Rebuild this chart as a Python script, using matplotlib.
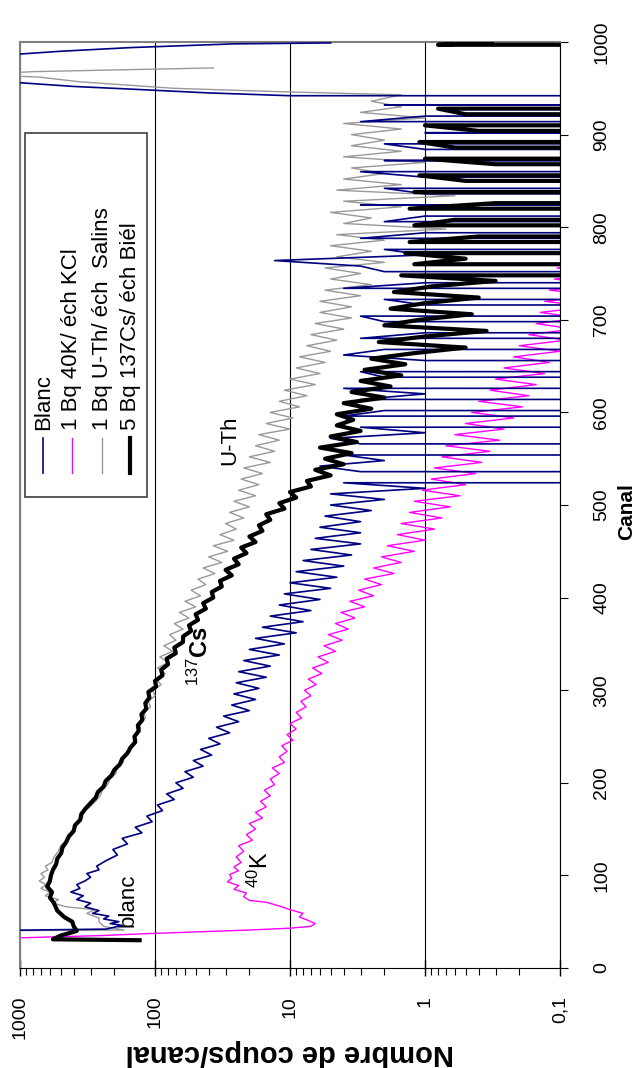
import numpy as np
import matplotlib
matplotlib.use('Agg')
import matplotlib.pyplot as plt
from matplotlib.ticker import LogLocator, NullFormatter
from matplotlib.patches import Rectangle

plt.rcParams['font.family'] = ['Liberation Sans', 'DejaVu Sans']
plt.rcParams['mathtext.fontset'] = 'custom'
plt.rcParams['mathtext.rm'] = 'Liberation Sans'
plt.rcParams['mathtext.it'] = 'Liberation Sans:italic'
plt.rcParams['mathtext.bf'] = 'Liberation Sans:bold'


def channels(start, step, vals):
    return [start + step * i for i in range(len(vals))]


# --- Blanc (navy) ---
blanc_head_ch = [30, 40, 42, 46, 48, 50, 53, 56, 59, 62, 66, 70, 74, 78, 82, 86, 90, 94, 98, 102, 106, 110]
blanc_head_n = [3000, 3000, 230, 175, 215, 185, 240, 220, 290, 260, 330, 300, 380, 340, 420, 360, 380, 330,
                300, 320, 260, 270]
blanc_body1_n = [230, 190, 205, 160, 175, 125, 140, 105, 115, 88, 96, 72, 82, 62, 70, 52, 60, 44, 52, 38,
                 46, 33, 40, 28, 35, 24, 31, 20, 27, 18, 26, 17, 25, 15, 24, 14, 22, 12, 20, 11,
                 18, 9, 16, 8, 14, 7, 12, 6, 11, 5, 10, 4.5, 9, 4, 8, 3.5, 7, 3, 6.5, 3,
                 6, 3, 5.5, 2.5, 5]
blanc_body2_n = [2, 5, 1, 4, 0, 3, 6, 2, 4, 0, 3, 5, 1, 3, 0, 4,
                 2, 0, 3, 1, 4, 0, 2, 3, 0, 1, 4, 2, 0, 3, 1, 0, 2,
                 3, 0, 1, 2, 0, 4, 1, 0, 2, 3, 13, 1, 2, 0, 3, 1, 0,
                 2, 1, 0, 3, 0, 1, 2, 0, 1, 3, 0, 2, 0, 1, 2, 0, 1, 0, 3, 1, 0, 2, 0]
blanc_tail_ch = [940, 942, 945, 949, 952, 956, 958, 985, 987, 990, 994, 998, 999]
blanc_tail_n = [0, 10, 40, 145, 400, 1000, 3000, 3000, 1000, 500, 150, 26, 5]

# --- 1 Bq 40K (magenta) ---
k40_head_ch = [30, 31, 33, 35, 37, 39, 41, 43, 45, 48, 52, 55, 59, 63, 67, 71, 73, 77, 81, 85, 89, 93, 97,
               101, 105, 109, 114]
k40_head_n = [3000, 2000, 800, 250, 120, 50, 20, 10, 7, 6.5, 7.5, 8.5, 8, 10, 12, 15, 20, 22, 21, 26, 24, 29,
              27, 28, 24, 26, 23]
k40_body_n = [25, 22, 24, 19, 21, 18, 20, 16, 18, 15, 16.5, 14, 15.5, 13, 14, 12, 13.5, 11, 12, 10.5,
              11.5, 9.5, 10.5, 9, 10, 8.2, 9, 7.6, 8.3, 7, 7.8, 6.4, 7.3, 5.8, 6.8, 5.2, 6.2, 4.6, 5.6, 4.1,
              5.2, 3.7, 4.6, 3.3, 4.2, 2.8, 3.6, 2.4, 3.1, 2.1, 2.8, 1.7, 2.4, 1.5, 2.1, 1.2, 1.9, 1.0, 1.6, 0.85,
              1.5, 0.75, 1.3, 0.65, 1.2, 0.55, 1.05, 0.5, 0.9, 0.42, 0.85, 0.38, 0.75, 0.33, 0.7, 0.28, 0.6,
              0.26, 0.5, 0.22, 0.45, 0.19, 0.4, 0.17, 0.33, 0.15, 0.3, 0.13, 0.26, 0.12, 0.22, 0.1, 0.2, 0.09,
              0.17, 0.08, 0.15, 0.07, 0.14, 0.06, 0.13, 0.05, 0.12, 0.05, 0.11, 0.04, 0.105, 0.03]

# --- 1 Bq U-Th (grey) ---
uth_head_ch = [30, 40, 41, 45, 50, 54, 59, 63, 66, 70, 74, 78, 82, 86, 90, 94, 98, 102, 106, 110, 114]
uth_head_n = [3000, 3000, 170, 240, 260, 260, 320, 280, 450, 570, 520, 650, 600, 700, 640, 720, 660, 700,
              620, 650, 580]
uth_body_n = [560, 520, 500, 450, 440, 390, 380, 345, 340, 305,
              275, 255, 245, 225, 215, 195, 192, 172, 170, 155,
              152, 138, 140, 128, 130, 118, 120, 108, 112, 100,
              104, 90, 98, 84, 96, 80, 92, 74, 86, 70,
              78, 62, 72, 56, 66, 50, 60, 46, 54, 42,
              48, 36, 44, 32, 40, 29, 37, 26, 33, 25,
              30, 22, 28, 20, 26, 18, 24, 17, 23, 16,
              22, 14, 20, 13, 18, 12, 17, 10, 15, 9.5,
              14, 8.5, 12, 7.5, 11, 6.5, 10, 6, 9, 5.5,
              8.5, 5, 7.5, 4.5, 7, 4, 6.5, 3.5, 6, 3.5,
              6, 3, 5.5, 2.5, 5, 3, 5.5, 2, 4.5, 2.5,
              5, 2, 4.5, 0.7, 4, 2.5, 5, 1.5, 4, 0.6,
              4.5, 1.5, 4, 2, 3.5, 1, 4, 1.5, 3.5, 2,
              3.5, 1.5, 4, 1, 3, 1.5, 2.5]
uth_tail_ch = [943, 946, 950, 957, 962, 965, 968, 970, 972]
uth_tail_n = [1.5, 10, 73, 360, 710, 2000, 800, 170, 37]

# --- 5 Bq 137Cs (black) ---
cs_head_ch = [30, 31, 35, 40, 45, 50, 55, 62, 70, 76, 82, 88, 94, 100, 106, 112]
cs_head_n = [130, 570, 500, 380, 400, 410, 470, 530, 560, 600, 580, 630, 600, 590, 570, 540]
cs_body_n = [530, 495, 485, 455, 435, 400, 392, 358, 352, 328,
             300, 275, 265, 240, 232, 210, 200, 182, 175, 160,
             152, 140, 142, 132, 134, 124, 126, 116, 118, 110,
             112, 98, 100, 88, 90, 80, 82, 70, 72, 62,
             62, 54, 56, 48, 50, 42, 44, 37, 38, 32,
             33, 27, 30, 24, 26, 21, 23, 18, 20, 16,
             17, 14, 15, 11, 12, 9, 10, 7, 7.5, 5,
             6.5, 4, 5.5, 3.5, 6, 3.2, 5, 3, 4.5, 3.4,
             4.5, 2.5, 4, 2, 3.5, 1.8, 3, 1.5, 2.8, 1.4,
             2.5, 1.2, 0.5, 2.2, 1, 0.35, 2, 1.1, 0.45, 1.8,
             1, 0.4, 1.7, 0.9, 0.3, 1.5, 0, 1.2, 0.5, 1.4,
             0, 1.3, 0.4, 0, 1.2, 0.6, 0, 1.3, 0.3, 0,
             1.2, 0, 0.5, 1.1, 0, 0.3, 1, 0, 0.6, 1.1,
             0, 0.4, 1, 0, 0.5, 0.8, 0, 0]
cs_tail_ch = [946, 996, 997, 1000]
cs_tail_n = [0, 0, 0.8, 0.32]

blanc_ch = blanc_head_ch + channels(116, 6, blanc_body1_n) + channels(506, 6, blanc_body2_n) + blanc_tail_ch
blanc_n = blanc_head_n + blanc_body1_n + blanc_body2_n + blanc_tail_n
k40_ch = k40_head_ch + channels(120, 6, k40_body_n)
k40_n = k40_head_n + k40_body_n
uth_ch = uth_head_ch + channels(120, 6, uth_body_n) + uth_tail_ch
uth_n = uth_head_n + uth_body_n + uth_tail_n
cs_ch = cs_head_ch + channels(118, 6, cs_body_n) + cs_tail_ch
cs_n = cs_head_n + cs_body_n + cs_tail_n

legend_labels = ['Blanc', '1 Bq 40K/ éch KCl', '1 Bq U-Th/ éch  Salins', '5 Bq 137Cs/ éch Biél']
count_ticks = [1000, 100, 10, 1, 0.1]
count_labels = ['1000', '100', '10', '1', '0,1']

fig = plt.figure(figsize=(6.38, 10.68), dpi=100)
ax = fig.add_axes([20 / 638, 100 / 1068, 540 / 638, 926 / 1068])

ax.plot(k40_n, k40_ch, color='#FF00FF', lw=1.0, zorder=2)
ax.plot(uth_n, uth_ch, color='#999999', lw=1.0, zorder=3)
ax.plot(blanc_n, blanc_ch, color='#000080', lw=1.2, zorder=4)
ax.plot(cs_n, cs_ch, color='black', lw=3.0, zorder=5)

ax.set_xscale('log')
ax.set_xlim(1000, 0.1)
ax.set_ylim(0, 1000)

ax.set_xticks(count_ticks)
ax.set_xticklabels(count_labels, rotation=90, fontsize=14)
ax.xaxis.set_minor_locator(LogLocator(base=10, subs=np.arange(2, 10)))
ax.xaxis.set_minor_formatter(NullFormatter())
ax.tick_params(axis='x', which='major', direction='inout', length=12, width=1, pad=14)
ax.tick_params(axis='x', which='minor', direction='out', length=5, width=0.8)
ax.grid(axis='x', which='major', color='black', lw=0.8)

ax.yaxis.tick_right()
ax.set_yticks(range(0, 1001, 100))
ax.tick_params(axis='y', direction='out', length=6, pad=18, labelsize=14)
for t in ax.get_yticklabels():
    t.set_rotation(90)
    t.set_va('center')

for s in ['top', 'left']:
    ax.spines[s].set_color('#808080')
    ax.spines[s].set_linewidth(1.5)
ax.spines['right'].set_color('black')
ax.spines['bottom'].set_color('black')

fig.text(290 / 638, 1 - 1053 / 1068, 'Nombre de coups/canal', rotation=180, fontsize=21,
         fontweight='bold', ha='center', va='center')
fig.text(627 / 638, 1 - 512 / 1068, 'Canal', rotation=90, fontsize=15, fontweight='bold',
         ha='center', va='center')

# annotations
ax.text(158, 73, 'blanc', rotation=90, fontsize=16, ha='center', va='center')
ax.text(16.7, 106, r'$^{40}$K', rotation=90, fontsize=17, ha='center', va='center')
ax.text(46, 337, r'$^{137}$Cs', rotation=90, fontsize=17, fontweight='bold', ha='center', va='center')
ax.text(27.8, 570, 'U-Th', rotation=90, fontsize=16, ha='center', va='center')

# legend drawn by hand (rotated)
ax.add_patch(Rectangle((0.009, 0.509), 0.226, 0.393, transform=ax.transAxes, fill=True,
                       facecolor='white', edgecolor='#404040', lw=1.2, zorder=6))
leg_colors = ['#000080', '#FF00FF', '#999999', 'black']
leg_widths = [1.2, 1.0, 1.0, 3.0]
leg_x = [0.043, 0.096, 0.152, 0.204]
for lx, lab, c, w in zip(leg_x, legend_labels, leg_colors, leg_widths):
    ax.plot([lx, lx], [0.535, 0.572], color=c, lw=w, transform=ax.transAxes, zorder=7)
    ax.text(lx, 0.581, lab, rotation=90, fontsize=16, ha='center', va='bottom',
            transform=ax.transAxes, zorder=7)

fig.savefig('out.png', dpi=100)
